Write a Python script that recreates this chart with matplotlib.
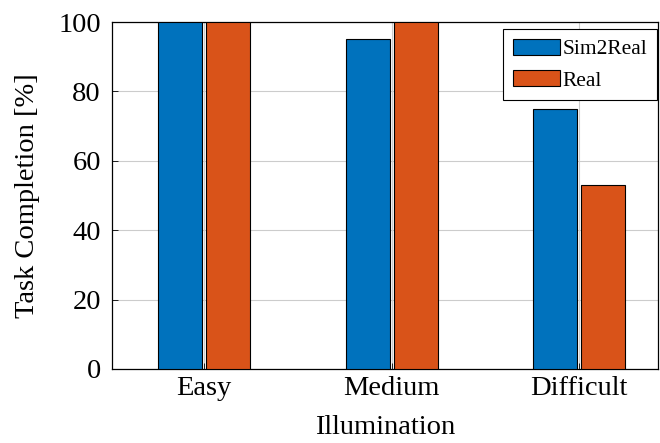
import matplotlib
matplotlib.use("Agg")
import matplotlib.pyplot as plt
import numpy as np

categories = ["Easy", "Medium", "Difficult"]
sim2real = [100, 95, 75]
real = [100, 100, 53]
series_names = ["Sim2Real", "Real"]
yticks = [0, 20, 40, 60, 80, 100]

plt.rcParams["font.family"] = ["Liberation Serif", "DejaVu Serif"]

fig = plt.figure(figsize=(6.6, 4.43), dpi=100)
ax = fig.add_axes([112 / 660, 1 - 369 / 443, (658 - 112) / 660, (369 - 22) / 443])

x = np.arange(len(categories))
w = 0.235
off = 0.128
ax.bar(x - off, sim2real, w, color="#0072BD", edgecolor="black", linewidth=0.8,
       label=series_names[0], zorder=3)
ax.bar(x + off, real, w, color="#D95319", edgecolor="black", linewidth=0.8,
       label=series_names[1], zorder=3)

ax.set_xlim(-0.49, 2.42)
ax.set_ylim(0, 100)
ax.set_xticks(x)
ax.set_xticklabels(categories)
ax.set_yticks(yticks)
ax.tick_params(axis="both", direction="in", length=4, width=0.6, labelsize=20.5,
               colors="black")
ax.tick_params(axis="x", pad=5)
ax.tick_params(axis="y", pad=8)
ax.grid(True, color="#cccccc", linewidth=0.8, zorder=0)
ax.set_axisbelow(True)
for s in ax.spines.values():
    s.set_linewidth(0.9)
    s.set_color("black")

ax.set_ylabel("Task Completion [%]", fontsize=20.5, labelpad=13)
ax.set_xlabel("Illumination", fontsize=20.5, labelpad=10)

leg = ax.legend(loc="upper right", fontsize=15.4, frameon=True, fancybox=False,
                edgecolor="black", framealpha=1, borderpad=0.45, borderaxespad=0,
                handlelength=2.2, handleheight=0.8, handletextpad=0.12,
                labelspacing=0.5, bbox_to_anchor=(545 / 546, 1 - 7 / 347))
leg.get_frame().set_linewidth(0.8)

fig.savefig("out.png", dpi=100)
